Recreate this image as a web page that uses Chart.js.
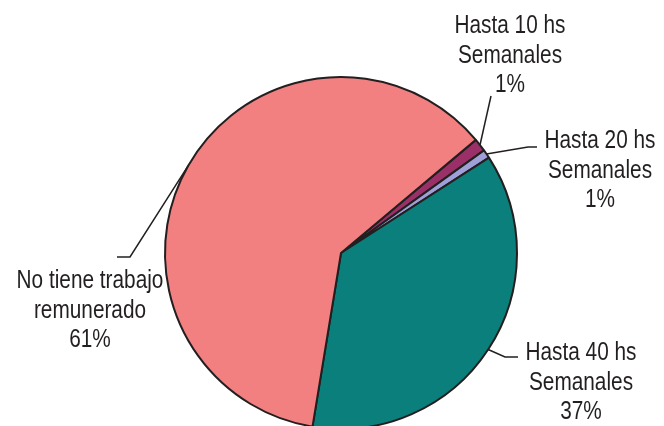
<!DOCTYPE html>
<html>
<head>
<meta charset="utf-8">
<script src="https://cdn.jsdelivr.net/npm/chart.js@4"></script>
<style>
  html, body { margin: 0; padding: 0; background: #fff; overflow: hidden; }
  #wrap { width: 664px; height: 426px; overflow: hidden; }
</style>
</head>
<body>
<div id="wrap"><canvas id="pie" width="664" height="460"></canvas></div>
<script>
// Data
const categories = ['Hasta 10 hs Semanales', 'Hasta 20 hs Semanales', 'Hasta 40 hs Semanales', 'No tiene trabajo remunerado'];
const labelLines = [['Hasta 10 hs', 'Semanales'], ['Hasta 20 hs', 'Semanales'], ['Hasta 40 hs', 'Semanales'], ['No tiene trabajo', 'remunerado']];
const shares = [1.2, 0.8, 36.7, 61.3];
const sliceColors = ['#9B2F67', '#9FA0D8', '#0B7F7B', '#F28081'];

// label layout: text centre x, first line y, elbow and end of the leader line
const labelLayout = [
    { x: 510, y: 26, elbow: null, end: [491, 96] },
    { x: 600, y: 141, elbow: [528, 147], end: [537, 147] },
    { x: 581, y: 353, elbow: [505, 357], end: [518, 357] },
    { x: 90, y: 281, elbow: [130, 257], end: [117, 257] }
];

const ink = '#231F20';

const calloutPlugin = {
    id: 'callouts',
    afterDatasetsDraw(chart) {
        const ctx = chart.ctx;
        const meta = chart.getDatasetMeta(0);
        ctx.save();
        ctx.strokeStyle = ink;
        ctx.lineWidth = 1.5;
        ctx.fillStyle = ink;
        ctx.font = '26px "Liberation Sans", Arial, sans-serif';
        ctx.textAlign = 'center';
        ctx.textBaseline = 'middle';
        meta.data.forEach((arc, i) => {
            const mid = (arc.startAngle + arc.endAngle) / 2;
            const ax = arc.x + Math.cos(mid) * arc.outerRadius;
            const ay = arc.y + Math.sin(mid) * arc.outerRadius;
            const lay = labelLayout[i];
            ctx.beginPath();
            ctx.moveTo(ax, ay);
            if (lay.elbow) ctx.lineTo(lay.elbow[0], lay.elbow[1]);
            ctx.lineTo(lay.end[0], lay.end[1]);
            ctx.stroke();
            const lines = labelLines[i].concat([Math.round(shares[i]) + '%']);
            lines.forEach((t, k) => {
                // narrow face: squeeze the regular sans horizontally
                ctx.save();
                ctx.translate(lay.x, lay.y + k * 29.5);
                ctx.scale(0.8, 1);
                ctx.fillText(t, 0, 0);
                ctx.restore();
            });
        });
        ctx.restore();
    }
};

new Chart(document.getElementById('pie'), {
    type: 'pie',
    data: {
        labels: categories,
        datasets: [{
            data: shares,
            backgroundColor: sliceColors,
            borderColor: ink,
            borderWidth: 2
        }]
    },
    options: {
        responsive: false,
        animation: false,
        rotation: 50,
        layout: { padding: { top: 76, bottom: 30, left: 164, right: 146 } },
        plugins: {
            legend: { display: false },
            tooltip: { enabled: false }
        }
    },
    plugins: [calloutPlugin]
});
</script>
</body>
</html>
